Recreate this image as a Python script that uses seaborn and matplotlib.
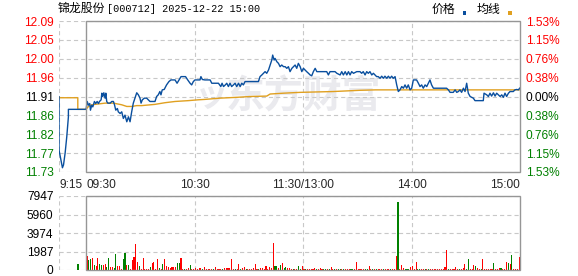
import numpy as np
import pandas as pd
import matplotlib
matplotlib.use("Agg")
import matplotlib.pyplot as plt
import seaborn as sns
from matplotlib.patches import Rectangle

# ---------------- data ----------------
title_name = "锦龙股份"
title_rest = "[000712] 2025-12-22 15:00"
prev_close = 11.91
price_ticks_lbl = ["11.73", "11.77", "11.82", "11.86", "11.91", "11.96", "12.00", "12.05", "12.09"]
pct_ticks_lbl = ["1.53%", "1.15%", "0.76%", "0.38%", "0.00%", "0.38%", "0.76%", "1.15%", "1.53%"]
vol_ticks_lbl = ["0", "1987", "3974", "5960", "7947"]
vol_max = 7947
x_tick_pos = [-15, 0, 60, 120, 180, 240]
x_tick_lbl = ["9:15", "09:30", "10:30", "11:30/13:00", "14:00", "15:00"]

# price line (minutes from 09:30; negative = call auction)
price_t = [-15, -15, -13.1, -12.5, -11.6, -10.7, -9.8, -9.8,
           0, 0.6, 1.3, 2.0, 2.4, 3.1, 3.7, 4.6, 5.3, 6.1, 6.8, 7.4, 8.3, 8.7, 9.2, 9.8,
           10.5, 10.9, 11.4, 12.0, 13.3, 14.2, 15.1, 15.7, 16.4, 17.3, 17.8, 18.8, 19.7,
           20.6, 21.5, 22.5, 23.4, 24.3, 25.2, 26.1, 27.0, 28.0, 28.9, 29.8, 30.4, 31.1,
           32.2, 33.5, 34.4, 35.3, 38.1, 39.0, 39.9, 40.8, 41.4, 42.1, 43.2, 44.5, 45.8,
           46.9, 49.2, 50.3, 51.4, 52.5, 55.0, 56.2, 57.5, 58.4, 59.3, 60.2, 63.0, 63.5,
           64.3, 65.7, 68.6, 69.5, 73.2, 74.5, 75.2, 76.0, 77.0, 77.8, 78.7, 79.6, 80.5,
           81.5, 82.4, 83.3, 84.3, 85.2, 86.1, 87.0, 87.9, 88.9, 95.3, 96.2, 97.2, 98.1,
           99.0, 99.9, 100.9, 101.8, 102.7, 103.2, 104.0, 104.5, 105.5, 106.4, 107.3,
           108.2, 109.2, 110.1, 111.0, 111.9, 112.8, 113.8, 114.7, 115.6, 116.5, 117.4,
           118.4, 119.3, 120.2, 121.1, 122.0, 123.0, 123.9, 124.8, 125.7, 126.7, 127.6,
           129.4, 133.1, 134.0, 134.9, 137.7, 138.7, 140.5, 141.4, 142.3, 143.3, 144.2,
           145.1, 146.0, 146.9, 147.9, 149.7, 151.5, 152.4, 153.3, 154.3, 155.2, 156.1,
           157.0, 158.0, 158.9, 159.8, 160.7, 161.6, 162.6, 163.5, 164.4, 165.3, 166.3,
           167.2, 168.1, 169.0, 169.9, 170.9, 171.8, 172.7, 173.6, 174.6, 175.5, 176.4,
           177.3, 178.2, 179.2, 180.1, 181.0, 182.8, 183.8, 184.7, 185.6, 186.5, 187.5,
           188.4, 189.3, 190.2, 191.1, 192.1, 199.4, 200.4, 201.3, 203.1, 204.1, 205.0,
           205.9, 206.8, 207.7, 208.7, 209.6, 210.5, 211.4, 212.4, 214.2, 215.1, 219.7,
           220.1, 221.6, 222.5, 223.4, 224.3, 225.3, 226.2, 227.1, 229.0, 229.9, 230.8,
           231.7, 232.6, 233.6, 234.5, 236.3, 237.2, 238.2, 239.1, 240.0]
price_v = [11.91, 11.781, 11.738, 11.745, 11.774, 11.813, 11.861, 11.879,
           11.879, 11.898, 11.889, 11.893, 11.877, 11.889, 11.885, 11.898, 11.893, 11.898,
           11.893, 11.898, 11.902, 11.918, 11.910, 11.919, 11.906, 11.918, 11.898, 11.894,
           11.894, 11.898, 11.898, 11.890, 11.877, 11.881, 11.873, 11.869, 11.873, 11.857,
           11.865, 11.849, 11.861, 11.849, 11.873, 11.894, 11.906, 11.919, 11.914, 11.906,
           11.894, 11.902, 11.906, 11.906, 11.902, 11.898, 11.898, 11.910, 11.914, 11.922,
           11.914, 11.926, 11.927, 11.938, 11.946, 11.950, 11.950, 11.942, 11.950, 11.958,
           11.958, 11.950, 11.942, 11.938, 11.946, 11.950, 11.950, 11.958, 11.951, 11.950,
           11.950, 11.942, 11.942, 11.934, 11.942, 11.934, 11.938, 11.942, 11.934, 11.942,
           11.934, 11.938, 11.942, 11.934, 11.942, 11.934, 11.942, 11.938, 11.946, 11.946,
           11.946, 11.958, 11.962, 11.966, 11.970, 11.966, 11.974, 11.986, 11.998, 12.010,
           11.998, 12.002, 11.994, 11.990, 11.982, 11.986, 11.982, 11.982, 11.978, 11.982,
           11.970, 11.978, 11.982, 11.986, 11.978, 11.990, 11.982, 11.970, 11.978, 11.974,
           11.970, 11.966, 11.962, 11.960, 11.970, 11.978, 11.970, 11.970, 11.970, 11.962,
           11.970, 11.970, 11.966, 11.962, 11.970, 11.962, 11.970, 11.962, 11.970, 11.962,
           11.970, 11.966, 11.970, 11.970, 11.966, 11.970, 11.962, 11.970, 11.966, 11.970,
           11.962, 11.966, 11.962, 11.958, 11.958, 11.954, 11.959, 11.954, 11.959, 11.954,
           11.959, 11.954, 11.959, 11.954, 11.958, 11.938, 11.922, 11.926, 11.934, 11.930,
           11.938, 11.930, 11.938, 11.926, 11.930, 11.950, 11.950, 11.942, 11.934, 11.938,
           11.930, 11.938, 11.934, 11.942, 11.950, 11.938, 11.930, 11.930, 11.926, 11.920,
           11.920, 11.926, 11.920, 11.922, 11.926, 11.920, 11.930, 11.922, 11.942, 11.918,
           11.910, 11.906, 11.900, 11.900, 11.918, 11.914, 11.910, 11.918, 11.911, 11.919,
           11.911, 11.918, 11.910, 11.914, 11.908, 11.918, 11.910, 11.918, 11.922, 11.922,
           11.926, 11.927, 11.926, 11.931]

# average price line
avg_t = [-15, -4.6, -4.6, 0, 1.3, 3.1, 6.8, 10.5, 15.1, 19.7, 22.5, 25.2, 28, 30.7, 38.1,
         43.6, 49.2, 56.5, 62, 65.7, 74, 83.3, 90.7, 99.9, 101.8, 109.2, 118.4, 127.6,
         136.8, 151.6, 160, 240]
avg_v = [11.907, 11.907, 11.879, 11.879, 11.886, 11.890, 11.892, 11.894, 11.894, 11.890,
         11.886, 11.886, 11.888, 11.888, 11.891, 11.895, 11.898, 11.900, 11.902, 11.903,
         11.906, 11.908, 11.910, 11.911, 11.916, 11.918, 11.920, 11.921, 11.922, 11.925,
         11.926, 11.926]

# volume per minute (09:31 .. 15:00) and direction (1 = up/red, 0 = down/green)
vol_values = [
    1503, 1074, 1181, 1325, 537, 465, 1325, 644, 537, 537,
    609, 358, 1325, 358, 358, 250, 1718, 465, 465, 107,
    1181, 1826, 537, 537, 107, 1074, 1432, 2757, 895, 430,
    107, 1325, 107, 107, 107, 322, 716, 823, 107, 1181,
    250, 107, 609, 1181, 465, 358, 179, 286, 358, 358,
    716, 716, 1289, 107, 107, 107, 179, 537, 107, 107,
    179, 107, 215, 215, 107, 286, 107, 143, 107, 107,
    107, 286, 107, 107, 107, 107, 179, 179, 250, 215,
    1181, 107, 107, 107, 644, 107, 179, 286, 107, 107,
    107, 107, 179, 644, 107, 107, 179, 179, 107, 430,
    107, 286, 250, 2864, 430, 430, 179, 537, 752, 179,
    322, 179, 179, 107, 107, 107, 107, 430, 107, 430,
    107, 107, 107, 107, 107, 107, 215, 107, 107, 215,
    107, 107, 107, 107, 107, 322, 107, 107, 107, 107,
    107, 107, 107, 107, 107, 107, 107, 107, 107, 823,
    107, 107, 107, 107, 107, 107, 430, 107, 107, 107,
    107, 107, 107, 107, 107, 107, 107, 107, 107, 107,
    107, 1503, 7303, 107, 537, 215, 107, 107, 107, 322,
    430, 107, 859, 107, 107, 107, 107, 107, 107, 107,
    107, 107, 107, 107, 107, 107, 107, 107, 322, 2148,
    107, 107, 107, 107, 322, 107, 107, 107, 179, 644,
    107, 1181, 107, 107, 537, 430, 179, 107, 107, 1181,
    107, 107, 107, 107, 107, 752, 107, 107, 179, 215,
    107, 107, 823, 716, 644, 1611, 107, 107, 107, 1396]
vol_up = [
    1, 0, 0, 1, 0, 1, 1, 0, 0, 1,
    1, 0, 0, 1, 1, 0, 0, 1, 1, 1,
    0, 0, 1, 0, 1, 1, 1, 1, 1, 0,
    1, 1, 1, 1, 1, 0, 1, 1, 1, 1,
    0, 1, 0, 1, 1, 1, 1, 1, 1, 1,
    0, 0, 1, 1, 0, 1, 1, 0, 1, 1,
    1, 1, 1, 1, 0, 1, 1, 1, 1, 1,
    0, 1, 1, 1, 1, 0, 1, 1, 1, 1,
    1, 1, 0, 1, 1, 0, 1, 1, 0, 1,
    1, 1, 1, 1, 1, 0, 1, 1, 1, 1,
    1, 1, 1, 1, 0, 0, 1, 0, 1, 0,
    0, 1, 1, 1, 0, 1, 1, 0, 0, 1,
    1, 0, 1, 1, 1, 1, 1, 0, 1, 1,
    1, 0, 0, 1, 0, 1, 1, 0, 1, 0,
    0, 1, 0, 1, 1, 1, 0, 0, 1, 1,
    1, 1, 1, 1, 0, 0, 1, 1, 0, 1,
    0, 1, 1, 1, 0, 1, 1, 1, 0, 1,
    1, 1, 0, 1, 1, 1, 0, 0, 0, 1,
    1, 1, 1, 0, 0, 1, 1, 0, 1, 0,
    1, 1, 1, 1, 1, 1, 1, 1, 1, 1,
    0, 1, 1, 1, 1, 1, 0, 1, 1, 1,
    0, 0, 1, 1, 1, 0, 1, 1, 0, 1,
    1, 1, 1, 1, 1, 0, 1, 1, 1, 0,
    1, 1, 1, 0, 1, 0, 1, 1, 1, 1]
auction_t = -4.5
auction_vol = 644
auction_up = 0

# ---------------- style ----------------
RED = "#ff0000"
GREEN = "#008000"
BLUE = "#0a4f9e"
ORANGE = "#e0a020"
GRID = "#c8c8c8"
BORDER = "#969696"

sns.set_theme(style="white")
plt.rcParams["font.family"] = ["Liberation Sans", "Noto Sans CJK SC", "DejaVu Sans"]
plt.rcParams["lines.scale_dashes"] = False

W, H = 578, 276
fig = plt.figure(figsize=(W / 100, H / 100), dpi=100)
fig.patch.set_facecolor("white")


def px_axes(l, t, r, b):
    return fig.add_axes([l / W, 1 - b / H, (r - l) / W, (b - t) / H])


ax = px_axes(59, 21, 520, 172)
axv = px_axes(59, 196, 520, 270)

lo = prev_close * (1 - 0.0153)
hi = prev_close * (1 + 0.0153)
price_ticks = np.linspace(lo, hi, 9)

# watermark
ax.text(0.531, 0.50, "东方财富", transform=ax.transAxes, ha="center", va="center",
        fontsize=28, fontweight="bold", color="#eaeaee", family=["Noto Sans CJK SC"],
        zorder=0)
ax.text(0.33, 0.50, "ッ", transform=ax.transAxes, ha="center", va="center",
        fontsize=24, fontweight="bold", color="#eaeaee", family=["Noto Sans CJK JP"],
        zorder=0)

df_p = pd.DataFrame({"t": price_t, "price": price_v})
df_a = pd.DataFrame({"t": avg_t, "avg": avg_v})
sns.lineplot(data=df_a, x="t", y="avg", ax=ax, color=ORANGE, lw=1.0, sort=False,
             estimator=None, zorder=3)
sns.lineplot(data=df_p, x="t", y="price", ax=ax, color=BLUE, lw=1.0, sort=False,
             estimator=None, zorder=4)

dash = (0, (3.0, 2.2))
for a, ticks in ((ax, price_ticks), (axv, np.linspace(0, vol_max, 5))):
    for yv in ticks:
        a.axhline(yv, color=GRID, lw=0.8, ls=dash, zorder=1)
    for xv in (-15, 60, 120, 180):
        a.axvline(xv, color=GRID, lw=0.8, ls=dash, zorder=1)
    for s in a.spines.values():
        s.set_visible(False)
    a.set_xlim(-15, 240)
    a.tick_params(length=0, pad=4)
    a.set_xlabel("")
    a.set_ylabel("")

ax.set_ylim(lo, hi)
ax.add_patch(Rectangle((0, lo), 240, hi - lo, fill=False, ec=BORDER, lw=1.0,
                       clip_on=False, zorder=5))
ax.set_yticks(price_ticks)
ax.set_yticklabels(price_ticks_lbl, fontsize=8.6)
for i, lab in enumerate(ax.get_yticklabels()):
    lab.set_color(GREEN if i < 4 else ("black" if i == 4 else RED))

ax2 = ax.twinx()
ax2.set_ylim(lo, hi)
ax2.set_yticks(price_ticks)
ax2.set_yticklabels(pct_ticks_lbl[::-1], fontsize=8.6)
for s in ax2.spines.values():
    s.set_visible(False)
ax2.tick_params(length=0, pad=4)
for i, lab in enumerate(ax2.get_yticklabels()):
    lab.set_color(GREEN if i < 4 else ("black" if i == 4 else RED))

ax.set_xticks(x_tick_pos)
ax.set_xticklabels(x_tick_lbl, fontsize=8.6)
has = ["left", "left", "center", "center", "center", "right"]
for lab, h in zip(ax.get_xticklabels(), has):
    lab.set_ha(h)
ax.tick_params(axis="x", pad=5)

# volume
df_v = pd.DataFrame({
    "t": [auction_t] + [m - 0.5 for m in range(1, len(vol_values) + 1)],
    "vol": [auction_vol] + vol_values,
    "dir": ["up" if u else "down" for u in [auction_up] + vol_up],
})
sns.barplot(data=df_v, x="t", y="vol", hue="dir", palette={"up": RED, "down": GREEN},
            native_scale=True, width=0.6, legend=False, errorbar=None, saturation=1,
            linewidth=0, ax=axv, zorder=3)
axv.set_xlim(-15, 240)
axv.set_ylim(0, vol_max)
axv.add_patch(Rectangle((0, 0), 240, vol_max, fill=False, ec=BORDER, lw=1.0,
                        clip_on=False, zorder=5))
axv.set_yticks(np.linspace(0, vol_max, 5))
axv.set_yticklabels(vol_ticks_lbl, fontsize=8.6, color="black")
axv.set_xticks([])
axv.set_xlabel("")
axv.set_ylabel("")

# header texts
fig.text(58 / W, 1 - 8.5 / H, title_name, ha="left", va="center", fontsize=8.6,
         family=["Noto Sans CJK SC"], color="black")
fig.text(107 / W, 1 - 8.5 / H, title_rest, ha="left", va="center", fontsize=7.3,
         family=["Liberation Mono"], color="black")
fig.text(432 / W, 1 - 9 / H, "价格", ha="left", va="center", fontsize=8.6,
         family=["Noto Sans CJK SC"], color="black")
fig.text(477 / W, 1 - 9 / H, "均线", ha="left", va="center", fontsize=8.6,
         family=["Noto Sans CJK SC"], color="black")
fig.add_artist(Rectangle((463 / W, 1 - 14.5 / H), 3.5 / W, 3 / H, transform=fig.transFigure,
                         color=BLUE, lw=0))
fig.add_artist(Rectangle((508 / W, 1 - 14.5 / H), 3.5 / W, 3 / H, transform=fig.transFigure,
                         color=ORANGE, lw=0))

fig.savefig("out.png", dpi=100, facecolor="white")
